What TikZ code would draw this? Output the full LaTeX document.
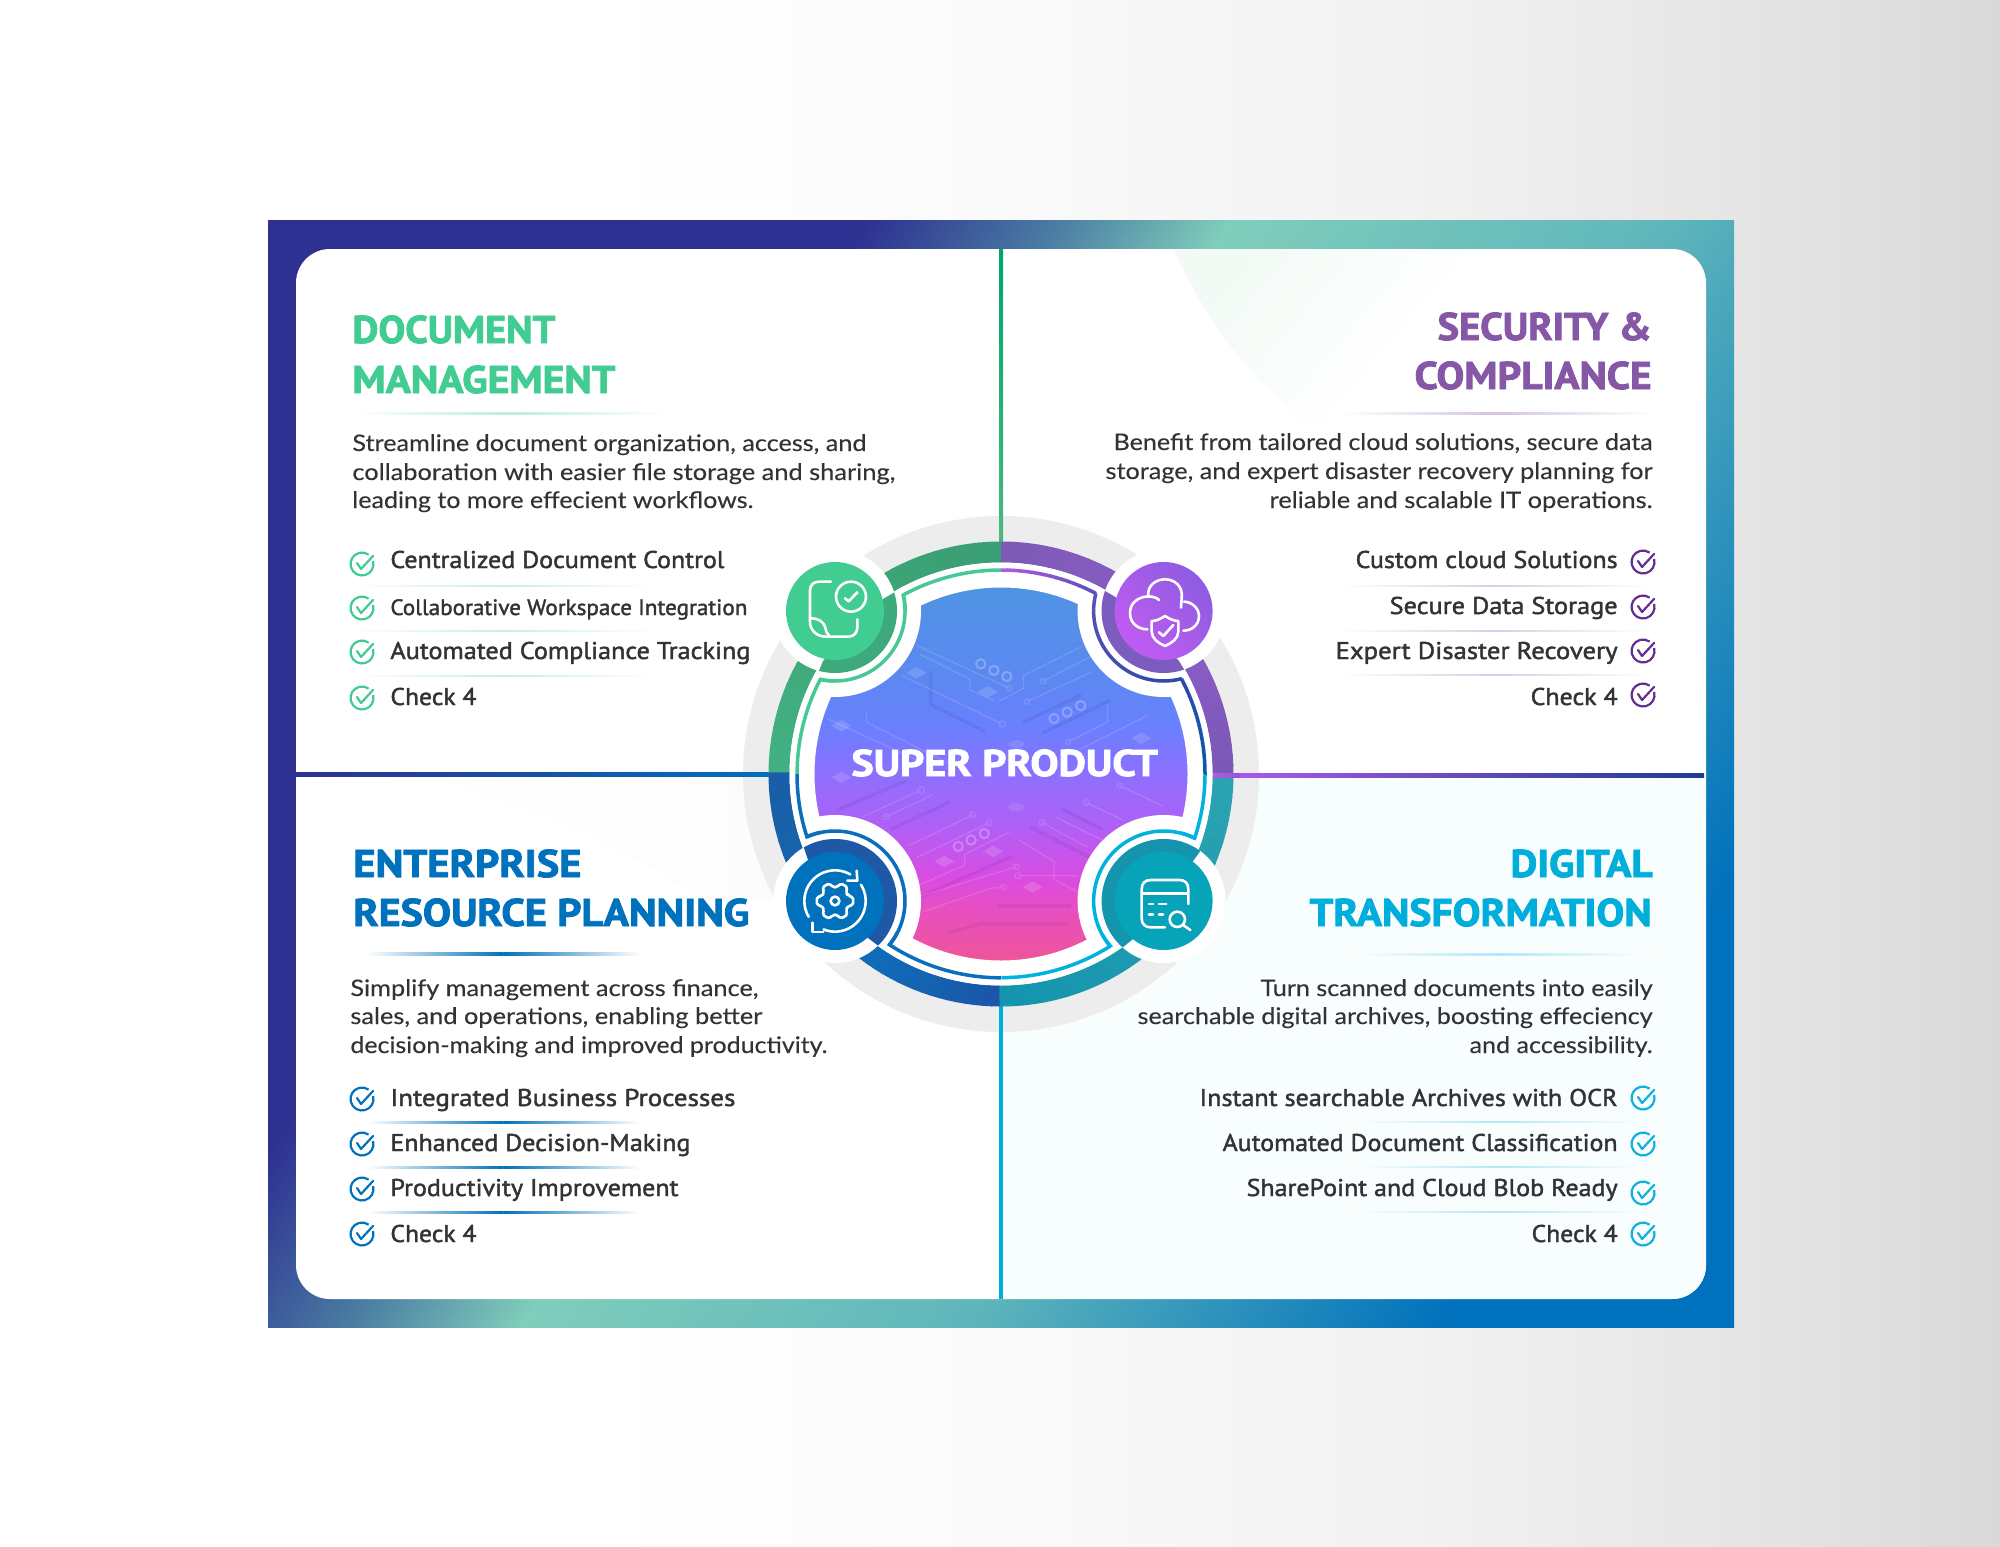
\documentclass[tikz,border=0pt]{standalone}
\usepackage{fontspec}
\usepackage{graphicx}
\usepackage{xcolor}
\newfontfamily\ptf[BoldFeatures={FakeBold=2.2}]{PT Sans}
\newfontfamily\ptlist[FakeBold=1.6]{PT Sans}
\newfontfamily\latof[FakeBold=0.2]{Lato}
\newdimen\pxu \pxu=0.5pt
\newcounter{tc}
\newcommand\ttlf{\ptf\bfseries\fontsize{19.3}{22}\selectfont}
\newcommand\bodf{\latof\fontsize{11.4}{14}\selectfont}
\newcommand\lstf{\ptlist\fontsize{12.1}{14}\selectfont}
\newcommand\lsmf{\ptlist\fontsize{11.1}{14}\selectfont}
\definecolor{gT}{HTML}{41CC92}\definecolor{pT}{HTML}{8557A6}\definecolor{bT}{HTML}{0071BC}\definecolor{cT}{HTML}{00AEDB}
\definecolor{gC}{HTML}{3FCB91}\definecolor{pC}{HTML}{662D91}\definecolor{bC}{HTML}{0071BC}\definecolor{cC}{HTML}{12B0DC}
\definecolor{ink}{HTML}{333336}
\pgfdeclarehorizontalshading{bgsh}{100bp}{color(0bp)=(white);color(40bp)=(white);color(50bp)=(white!98!black);color(60bp)=(white!95!black);color(68.5bp)=(white!90!black);color(75bp)=(white!85!black);color(100bp)=(white!85!black)}
\definecolor{f0}{HTML}{2E3192}\definecolor{f1}{HTML}{7FCDBB}\definecolor{f2}{HTML}{0071BC}\definecolor{f3}{HTML}{4A7CA2}
\pgfdeclarehorizontalshading{framesh}{100bp}{color(0bp)=(f0);color(25bp)=(f0);color(34.5bp)=(f0);color(40.5bp)=(f3);color(46bp)=(f1);color(60bp)=(f1!75!f2);color(75.3bp)=(f2);color(100bp)=(f2)}
\definecolor{d0}{HTML}{EE5599}\definecolor{d1}{HTML}{E84FC0}\definecolor{d2}{HTML}{DB4BE0}\definecolor{d3}{HTML}{B35EF5}\definecolor{d4}{HTML}{8D70FF}\definecolor{d5}{HTML}{6B7FFF}\definecolor{d6}{HTML}{5D88F2}\definecolor{d7}{HTML}{4F93E3}
\pgfdeclareverticalshading{discsh}{100bp}{color(0bp)=(d0);color(25bp)=(d0);color(31.8bp)=(d1);color(35.8bp)=(d2);color(42.5bp)=(d3);color(50bp)=(d4);color(56bp)=(d5);color(62.5bp)=(d6);color(75bp)=(d7);color(100bp)=(d7)}
\definecolor{pi0}{HTML}{C05CF2}\definecolor{pi1}{HTML}{8E5CE0}
\pgfdeclarehorizontalshading{purpsh}{100bp}{color(0bp)=(pi0);color(25bp)=(pi0);color(75bp)=(pi1);color(100bp)=(pi1)}
\definecolor{mint0}{HTML}{F2FAF5}
\pgfdeclarehorizontalshading{mintsh}{100bp}{color(0bp)=(mint0);color(25bp)=(mint0);color(65bp)=(white);color(100bp)=(white)}
% text helpers: x, baseline y, width px, font, colour, text
\newcommand\txL[6]{\stepcounter{tc}\node[name=t\arabic{tc},anchor=base west,inner sep=0pt,text=#5] at (#1,#2) {\resizebox{#3\pxu}{\height}{#4#6}};}
\newcommand\txR[6]{\stepcounter{tc}\node[name=t\arabic{tc},anchor=base east,inner sep=0pt,text=#5] at (#1,#2) {\resizebox{#3\pxu}{\height}{#4#6}};}
% rule fading at both ends: x0,x1,y,half height,colour
\newcommand\fadeln[5]{\pgfmathsetmacro\xm{(#1+#2)/2}\shade[left color=white,right color=#5] (#1,#3-#4) rectangle (\xm,#3+#4);\shade[left color=#5,right color=white] (\xm,#3-#4) rectangle (#2,#3+#4);}
% check mark
\newcommand\chk[3]{\begin{scope}[shift={(#1,#2)}]\draw[line width=1.1pt,#3] (-15:11.5) arc[start angle=-15,end angle=305,radius=11.5];\draw[line width=1.1pt,#3,line cap=round,line join=round] (-5,-1) -- (-1,5) -- (11,-8);\end{scope}}
% arc in coloured segments: cx,cy,r,a0,a1,colA,colB,width px,overlap
\newcommand\gradarc[9]{\foreach \i in {1,...,16}{%
 \pgfmathsetmacro\as{#4+(#5-#4)*(\i-1)/16}\pgfmathsetmacro\ae{#4+(#5-#4)*\i/16+#9}\pgfmathsetmacro\pc{100-100*(\i-0.5)/16}%
 \colorlet{segc}{#6!\pc!#7}%
 \draw[segc,line width=#8\pxu] ([shift={(#1,#2)}]\as:#3) arc[start angle=\as,end angle=\ae,radius=#3];}}
\tikzset{iconln/.style={white,line width=1.3pt,line cap=round,line join=round},
 trace/.style={white,opacity=.14,line width=.6pt},
 tracedk/.style={black!60!blue,opacity=.07,line width=1.6pt,line cap=round},
 ringm/.style={white,opacity=.25,line width=1pt},
 dia/.style={white,opacity=.15}}
\begin{document}
\begin{tikzpicture}[x=0.5pt,y=-0.5pt]
\useasboundingbox (0,0) rectangle (2000,1546);
\shade[shading=bgsh] (0,0) rectangle (2000,1546);
% frame
\shade[shading=framesh,shading angle=-32.7] (268,221) rectangle (1734,1327);
% card
\fill[white,rounded corners=17pt] (296,249) rectangle (1706,1299);
\begin{scope}
 \clip[rounded corners=17pt] (296,249) rectangle (1706,1299);
 \fill[color={rgb,255:red,248;green,253;blue,254}] (1001,775) rectangle (1706,1299);
 \shade[shading=mintsh,shading angle=-40] (1174,249) .. controls (1205,320) and (1250,380) .. (1313,428) -- (1450,330) -- (1470,249) -- cycle;
 \shade[left color=white,right color=black!1.2] (400,777) -- (800,777) -- (800,900) -- (700,900) .. controls (620,840) and (520,800) .. (400,777) -- cycle;
\end{scope}
% grey disc
\fill[black!7] (1001,774) circle (258);
% axis lines
\definecolor{vg0}{HTML}{00A66A}\definecolor{vg1}{HTML}{4CB884}
\shade[top color=vg0,bottom color=vg1] (999,249) rectangle (1003,542);
\draw[line width=2pt,color={rgb,255:red,0;green,176;blue,220}] (1001,1006) -- (1001,1299);
\shade[left color=f0,right color=bT] (296,772) rectangle (770,776);
\definecolor{rl0}{HTML}{B05CE8}\definecolor{rl1}{HTML}{1D3C8F}
\shade[left color=rl0,right color=rl1] (1213,773.5) rectangle (1704,777.5);
% coloured band
\definecolor{a0}{HTML}{42B182}\definecolor{a1}{HTML}{3A9E73}
\gradarc{1001}{774}{222}{180}{270}{a0}{a1}{21}{0.4}
\definecolor{b0}{HTML}{7D5AB5}\definecolor{b1}{HTML}{8B5CC8}\definecolor{b2}{HTML}{7B58B6}
\gradarc{1001}{774}{222}{270}{320}{b0}{b1}{21}{0.4}
\gradarc{1001}{774}{222}{320}{360}{b1}{b2}{21}{0.4}
\definecolor{c0}{HTML}{1B55A8}\definecolor{c1}{HTML}{0F6DB8}\definecolor{c2}{HTML}{1A5EA6}
\gradarc{1001}{774}{222}{90}{125}{c0}{c1}{21}{0.4}
\gradarc{1001}{774}{222}{125}{180}{c1}{c2}{21}{0.4}
\definecolor{e0}{HTML}{2BA3B2}\definecolor{e1}{HTML}{1494AE}
\gradarc{1001}{774}{222}{0}{90}{e0}{e1}{21}{0.4}
\shade[left color=rl0,right color=rl0!80!rl1] (1213,773.5) rectangle (1240,777.5);
% white disc
\fill[white] (1001,774) circle (211.5);
% thin contour
\definecolor{tg}{HTML}{45C995}\definecolor{tb}{HTML}{0A6EBD}\definecolor{tc}{HTML}{00B2E0}
\definecolor{tp0}{HTML}{B35AE8}\definecolor{tp1}{HTML}{5A50B8}\definecolor{tp2}{HTML}{2B4AA8}\definecolor{tp3}{HTML}{0A5AA8}
\draw[tg,line width=1.75pt,line join=miter] ([shift={(1001,774)}]270:204) arc[start angle=270,end angle=241.4,radius=204]
  arc[start angle=-13.3,end angle=102.3,radius=70] arc[start angle=207.6,end angle=180,radius=204];
\draw[tb,line width=1.75pt,line join=miter] ([shift={(1001,774)}]180:204) arc[start angle=180,end angle=162.1,radius=204]
  arc[start angle=-113.6,end angle=38.8,radius=70] arc[start angle=123.1,end angle=90,radius=204];
\draw[tc,line width=1.75pt,line join=miter] ([shift={(1001,774)}]0:204) arc[start angle=0,end angle=18.3,radius=204]
  arc[start angle=296.3,end angle=139.7,radius=70] arc[start angle=57.7,end angle=90,radius=204];
\gradarc{1001}{774}{204}{270}{297.6}{tp0}{tp1}{3.5}{0.2}
\gradarc{1001}{774}{204}{332.2}{360}{tp2}{tp3}{3.5}{0.2}
% central disc
\begin{scope}
 \clip (1001,774) circle (187);
 \shade[shading=discsh] (1001,774) circle (187);
 \begin{scope}[shift={(720,490)},scale=0.35714]
  \draw[trace] (550,435) -- (810,555) circle (8);
  \draw[trace] (510,520) -- (790,655) circle (9);
  \draw[tracedk] (590,510) -- (590,600) -- (740,675);
  \draw[trace] (860,592) circle (8) -- (1040,510);
  \draw[trace] (905,535) circle (8) -- (1040,465);
  \draw[trace] (780,592) -- (850,555) -- (850,520) -- (1010,440);
  \draw[trace] (410,620) -- (410,650) -- (650,770);
  \draw[trace] (300,640) -- (560,760);
  \draw[tracedk] (850,650) -- (1010,575);
  \draw[tracedk] (905,680) -- (1090,590);
  \draw[trace] (975,705) circle (7) -- (1085,650) -- (1085,600);
  \draw[trace] (990,735) -- (1200,630);
  \draw[trace] (560,460) -- (700,530) -- (700,560) -- (770,590);
  \foreach \x/\y in {730/487,767/505,803/522,935/640,972/622,1010/604}{\draw[ringm] (\x,\y) circle (13);}
  \foreach \x/\y in {550/512,750/565,1180/695,340/805,340/660}{\fill[dia] (\x-28,\y) -- (\x,\y-16) -- (\x+28,\y) -- (\x,\y+16) -- cycle;}
  \draw[trace] (400,915) -- (563,840) circle (10);
  \draw[trace] (465,915) circle (8) -- (597,853);
  \draw[trace] (530,995) -- (707,910) circle (8);
  \draw[trace] (550,1030) -- (753,932) circle (8);
  \draw[tracedk] (480,950) -- (640,875);
  \draw[tracedk] (330,895) -- (520,815);
  \draw[trace] (1025,875) circle (8) -- (1130,925);
  \draw[trace] (1120,828) circle (7) -- (1240,885);
  \draw[trace] (902,932) circle (8) -- (1030,1000);
  \draw[trace] (938,915) -- (1080,985);
  \draw[tracedk] (870,945) -- (1040,1030);
  \draw[tracedk] (960,895) -- (1070,950);
  \draw[trace] (810,958) -- (685,1020) -- (685,1050) -- (560,1105);
  \draw[trace] (570,1180) -- (760,1115) -- (795,1112) circle (8);
  \draw[trace] (550,1140) -- (830,1055) circle (8);
  \draw[tracedk] (560,1140) -- (815,1027);
  \draw[trace] (838,980) -- (935,1040) -- (935,1090) -- (1010,1130);
  \draw[trace] (835,1080) circle (9) -- (1000,1080);
  \draw[tracedk] (780,1165) -- (980,1165);
  \draw[tracedk] (640,1240) -- (730,1215) -- (970,1215);
  \foreach \x/\y in {667/998,703/980,740/962}{\draw[ringm] (\x,\y) circle (13);}
  \foreach \x/\y in {628/1040,765/1012,875/1112}{\fill[dia] (\x-28,\y) -- (\x,\y-16) -- (\x+28,\y) -- (\x,\y+16) -- cycle;}
  \fill[white,opacity=.1] (830,888) ellipse (22 and 12);
  \fill[white,opacity=.1] (830,712) ellipse (22 and 12);
 \end{scope}
 \fill[white] (835,611) circle (86);
 \fill[white] (1163.6,611) circle (86);
 \fill[white] (835,901) circle (86);
 \fill[white] (1163.6,901) circle (86);
\end{scope}
\draw[white,line width=1.5pt] (1001,774) circle (188);
% icon contours
\draw[tg,line width=1.75pt] ([shift={(835,611)}]-13.3:70) arc[start angle=-13.3,end angle=102.3,radius=70];
\draw[tb,line width=1.75pt] ([shift={(835,901)}]-113.6:70) arc[start angle=-113.6,end angle=38.8,radius=70];
\draw[tc,line width=1.75pt] ([shift={(1163.6,901)}]296.3:70) arc[start angle=296.3,end angle=139.7,radius=70];
\gradarc{1163.6}{611}{70}{194.6}{75.2}{tp1}{tp2}{3.5}{-0.3}
% icon discs
\fill[white] (835,611) circle (62);
\fill[white] (1163.6,611) circle (62);
\fill[white] (835,901) circle (62);
\fill[white] (1163.6,901) circle (62);
\begin{scope}\clip (900,589) -- (883,599) -- (823,661) -- (816,678) -- (816,700) -- (920,700) -- (920,589) -- cycle;
 \fill[color={rgb,255:red,61;green,169;blue,124}] (835,611) circle (62);\end{scope}
\begin{scope}\clip (1100,588) -- (1117,598) -- (1179,661) -- (1188,676) -- (1188,700) -- (1080,700) -- (1080,588) -- cycle;
 \fill[color={rgb,255:red,125;green,92;blue,192}] (1163.6,611) circle (62);\end{scope}
\begin{scope}\clip (802,842) -- (808,860) -- (868,938) -- (884,950) -- (930,950) -- (930,820) -- (802,820) -- cycle;
 \fill[color={rgb,255:red,32;green,88;blue,168}] (835,901) circle (62);\end{scope}
\begin{scope}\clip (1204,846) -- (1193,861) -- (1133,939) -- (1117,952) -- (1070,952) -- (1070,820) -- (1204,820) -- cycle;
 \fill[color={rgb,255:red,21;green,149;blue,173}] (1163.6,901) circle (62);\end{scope}
\fill[color=gT] (835,611) circle (49);
\shade[shading=purpsh,shading angle=45] (1163.6,611) circle (49);
\fill[color=bT] (835,901) circle (49);
\fill[color={rgb,255:red,7;green,163;blue,184}] (1163.6,901) circle (49);
% document icon
\begin{scope}[shift={(760,540)},scale=0.3333]
 \draw[iconln] (213,125) -- (178,125) .. controls (160,125) and (150,135) .. (150,152) -- (150,245) .. controls (150,272) and (172,290) .. (198,290) -- (265,290) .. controls (282,290) and (292,278) .. (292,262) -- (292,238);
 \draw[iconln] (152,235) .. controls (175,235) and (190,245) .. (195,260) .. controls (198,272) and (200,282) .. (208,288);
 \draw[iconln] (273,170) circle (45);
 \draw[iconln] (255,175) -- (266,184) -- (292,157);
\end{scope}
% cloud icon
\begin{scope}[shift={(1085,540)},scale=0.3333]
 \draw[iconln] (222,180) .. controls (205,160) and (135,165) .. (135,220) .. controls (135,250) and (160,268) .. (187,268);
 \draw[iconln] (190,170) .. controls (185,135) and (215,118) .. (240,118) .. controls (270,118) and (295,140) .. (290,175) -- (288,203);
 \draw[iconln] (297,185) .. controls (320,185) and (342,205) .. (342,228) .. controls (342,255) and (320,272) .. (295,272);
 \draw[iconln] (240,228) .. controls (225,238) and (212,243) .. (200,243) -- (200,275) .. controls (200,295) and (220,310) .. (240,318) .. controls (260,310) and (280,295) .. (280,275) -- (280,243) .. controls (268,243) and (255,238) .. (240,228) -- cycle;
 \draw[iconln] (222,277) -- (235,288) -- (265,255);
\end{scope}
% gear icon
\begin{scope}[shift={(760,830)},scale=0.3333]
 \begin{scope}[shift={(225,213)}]
  \draw[iconln,rounded corners=1pt] (-20:42) \foreach \a in {0,60,...,300}{ -- (\a-20:42) -- (\a-13:56) -- (\a+13:56) -- (\a+20:42)} -- cycle;
  \draw[iconln] (0,0) circle (13);
  \draw[iconln] (-60:92) arc[start angle=-60,end angle=-211,radius=92];
  \draw[iconln] (-32:92) arc[start angle=-32,end angle=112,radius=92];
 \end{scope}
 \draw[iconln] (290,122) -- (292,152) -- (262,152);
 \draw[iconln] (157,278) -- (157,306) -- (190,306);
\end{scope}
% calendar icon
\begin{scope}[shift={(1085,830)},scale=0.3333]
 \draw[iconln] (240,292) -- (197,292) .. controls (180,292) and (170,282) .. (170,265) -- (170,178) .. controls (170,160) and (180,150) .. (197,150) -- (283,150) .. controls (300,150) and (310,160) .. (310,178) -- (310,222);
 \draw[iconln] (172,190) -- (308,190);
 \draw[iconln] (192,222) -- (204,222);\draw[iconln] (222,222) -- (244,222);
 \draw[iconln] (192,254) -- (204,254);\draw[iconln] (222,254) -- (234,254);
 \draw[iconln] (277,268) circle (23);
 \draw[iconln] (294,285) -- (316,300);
\end{scope}
% centre title
\txL{851}{776}{306.5}{\ptf\bfseries\fontsize{18.6}{22}\selectfont}{white}{SUPER PRODUCT}
% top-left
\txL{352}{343}{203}{\ttlf}{gT}{DOCUMENT}
\txL{352}{393}{263}{\ttlf}{gT}{MANAGEMENT}
\fadeln{352}{665}{413}{1}{gT!35}
\txL{352}{451}{514}{\bodf}{ink}{Streamline document organization, access, and}
\txL{352}{480}{543}{\bodf}{ink}{collaboration with easier file storage and sharing,}
\txL{352}{508}{401}{\bodf}{ink}{leading to more effecient workflows.}
\chk{362}{564}{gC}\chk{362}{608}{gC}\chk{362}{652}{gC}\chk{362}{698}{gC}
\txL{390}{568}{334}{\lstf}{ink}{Centralized Document Control}
\txL{390}{615}{357}{\lsmf}{ink}{Collaborative Workspace Integration}
\txL{390}{659}{360}{\lstf}{ink}{Automated Compliance Tracking}
\txL{390}{705}{86}{\lstf}{ink}{Check 4}
\fadeln{352}{655}{586}{.8}{gT!30}\fadeln{352}{655}{631}{.8}{gT!30}\fadeln{352}{655}{676}{.8}{gT!30}
% top-right
\txR{1652}{340}{214}{\ttlf}{pT}{SECURITY \&}
\txR{1652}{389}{237}{\ttlf}{pT}{COMPLIANCE}
\fadeln{1340}{1652}{413}{1}{pT!35}
\txR{1653}{450}{539}{\bodf}{ink}{Benefit from tailored cloud solutions, secure data}
\txR{1653}{479}{547}{\bodf}{ink}{storage, and expert disaster recovery planning for}
\txR{1653}{508}{383}{\bodf}{ink}{reliable and scalable IT operations.}
\chk{1643}{562}{pC}\chk{1643}{607}{pC}\chk{1643}{651}{pC}\chk{1643}{695}{pC}
\txR{1618}{568}{262}{\lstf}{ink}{Custom cloud Solutions}
\txR{1618}{614}{228}{\lstf}{ink}{Secure Data Storage}
\txR{1618}{659}{282}{\lstf}{ink}{Expert Disaster Recovery}
\txR{1618}{705}{87}{\lstf}{ink}{Check 4}
\fadeln{1340}{1650}{586}{.8}{pT!30}\fadeln{1340}{1650}{631}{.8}{pT!30}\fadeln{1340}{1650}{675}{.8}{pT!30}
% bottom-left
\txL{353}{877}{228}{\ttlf}{bT}{ENTERPRISE}
\txL{353}{926}{396}{\ttlf}{bT}{RESOURCE PLANNING}
\fadeln{367}{640}{954}{1.2}{bT}
\txL{350}{996}{408}{\bodf}{ink}{Simplify management across finance,}
\txL{350}{1024}{412}{\bodf}{ink}{sales, and operations, enabling better}
\txL{350}{1053}{477}{\bodf}{ink}{decision-making and improved productivity.}
\chk{362}{1099}{bC}\chk{362}{1144}{bC}\chk{362}{1189}{bC}\chk{362}{1234}{bC}
\txL{390}{1106}{345}{\lstf}{ink}{Integrated Business Processes}
\txL{390}{1151}{300}{\lstf}{ink}{Enhanced Decision-Making}
\txL{390}{1196}{288}{\lstf}{ink}{Productivity Improvement}
\txL{390}{1242}{86}{\lstf}{ink}{Check 4}
\fadeln{367}{640}{1122}{1}{bT}\fadeln{367}{640}{1167}{1}{bT}\fadeln{367}{640}{1212}{1}{bT}
% bottom-right
\txR{1653}{877}{142}{\ttlf}{cT}{DIGITAL}
\txR{1652}{926}{342}{\ttlf}{cT}{TRANSFORMATION}
\fadeln{1347}{1652}{954}{1}{cT!30}
\txR{1653}{996}{392}{\bodf}{ink}{Turn scanned documents into easily}
\txR{1653}{1024}{515}{\bodf}{ink}{searchable digital archives, boosting effeciency}
\txR{1653}{1053}{183}{\bodf}{ink}{and accessibility.}
\chk{1643}{1098}{cC}\chk{1643}{1144}{cC}\chk{1643}{1193}{cC}\chk{1643}{1234}{cC}
\txR{1618}{1106}{418}{\lstf}{ink}{Instant searchable Archives with OCR}
\txR{1618}{1151}{395}{\lstf}{ink}{Automated Document Classification}
\txR{1618}{1196}{371}{\lstf}{ink}{SharePoint and Cloud Blob Ready}
\txR{1618}{1242}{86}{\lstf}{ink}{Check 4}
\fadeln{1347}{1652}{1122}{.8}{cT!30}\fadeln{1347}{1652}{1167}{.8}{cT!30}\fadeln{1347}{1652}{1212}{.8}{cT!30}
\end{tikzpicture}
\end{document}
